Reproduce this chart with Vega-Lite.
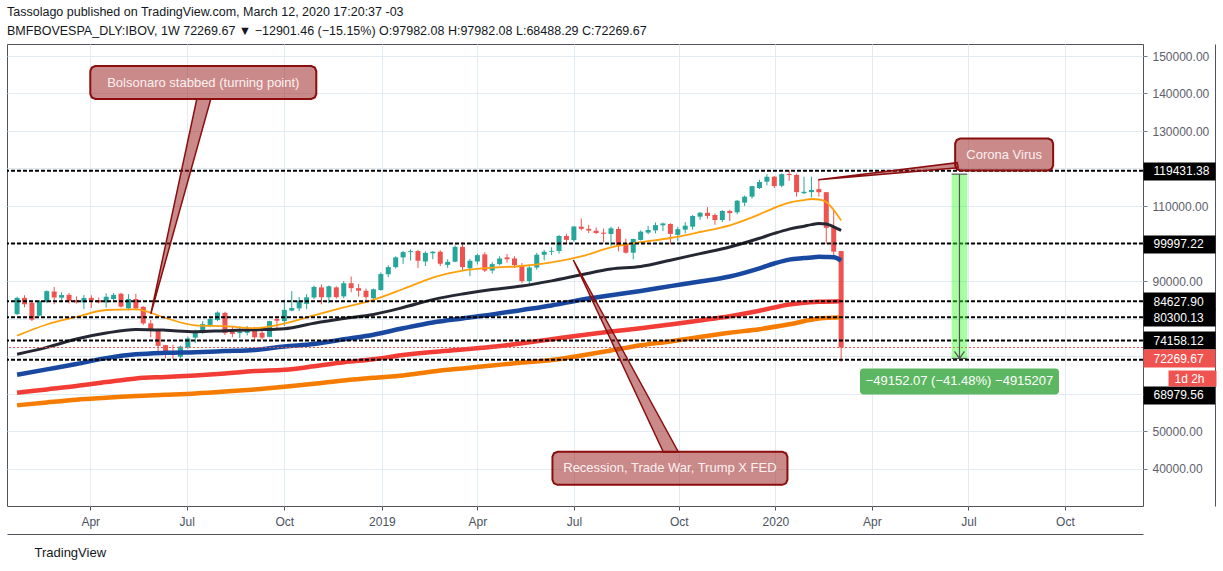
{
  "$schema": "https://vega.github.io/schema/vega-lite/v6.json",
  "width": 1136,
  "height": 462,
  "autosize": {"type": "none"},
  "padding": {"left": 7, "top": 44, "right": 80, "bottom": 65},
  "background": "#ffffff",
  "title": {
    "text": "Tassolago published on TradingView.com, March 12, 2020 17:20:37 -03",
    "subtitle": "BMFBOVESPA_DLY:IBOV, 1W  72269.67 ▼ −12901.46 (−15.15%) O:97982.08 H:97982.08 L:68488.29 C:72269.67",
    "anchor": "start",
    "frame": "group",
    "font": "Liberation Sans",
    "fontSize": 12.5,
    "fontWeight": "normal",
    "color": "#131722",
    "subtitleFont": "Liberation Sans",
    "subtitleFontSize": 12.5,
    "subtitleColor": "#131722",
    "subtitlePadding": 6,
    "offset": 7
  },
  "datasets": {
    "candles": [
      {"d": "2018-01-22", "o": 81200, "h": 85800, "l": 80900, "c": 85500},
      {"d": "2018-01-29", "o": 85500, "h": 86200, "l": 83000, "c": 83800},
      {"d": "2018-02-05", "o": 84200, "h": 84400, "l": 79300, "c": 79700},
      {"d": "2018-02-12", "o": 80750, "h": 84900, "l": 80600, "c": 84650},
      {"d": "2018-02-19", "o": 84400, "h": 87500, "l": 84100, "c": 87300},
      {"d": "2018-02-26", "o": 87200, "h": 88400, "l": 83800, "c": 85600},
      {"d": "2018-03-05", "o": 85550, "h": 87000, "l": 84300, "c": 86250},
      {"d": "2018-03-12", "o": 86300, "h": 86800, "l": 84000, "c": 84700},
      {"d": "2018-03-19", "o": 84900, "h": 85900, "l": 84000, "c": 84300},
      {"d": "2018-03-26", "o": 84300, "h": 86300, "l": 82500, "c": 85500},
      {"d": "2018-04-02", "o": 85500, "h": 86200, "l": 82800, "c": 84800},
      {"d": "2018-04-09", "o": 84900, "h": 85600, "l": 84000, "c": 84300},
      {"d": "2018-04-16", "o": 84300, "h": 86700, "l": 82900, "c": 85800},
      {"d": "2018-04-23", "o": 85200, "h": 86800, "l": 84500, "c": 86300},
      {"d": "2018-04-30", "o": 86600, "h": 86900, "l": 82900, "c": 83150},
      {"d": "2018-05-07", "o": 82700, "h": 86500, "l": 82200, "c": 85200},
      {"d": "2018-05-14", "o": 85200, "h": 86600, "l": 82300, "c": 82700},
      {"d": "2018-05-21", "o": 83100, "h": 83300, "l": 78300, "c": 78700},
      {"d": "2018-05-28", "o": 78700, "h": 79600, "l": 75000, "c": 76900},
      {"d": "2018-06-04", "o": 76900, "h": 77300, "l": 70700, "c": 72700},
      {"d": "2018-06-11", "o": 72900, "h": 73000, "l": 69400, "c": 70500},
      {"d": "2018-06-18", "o": 70900, "h": 73000, "l": 69200, "c": 70600},
      {"d": "2018-06-25", "o": 69800, "h": 72800, "l": 69400, "c": 72500},
      {"d": "2018-07-02", "o": 72300, "h": 75200, "l": 71900, "c": 74700},
      {"d": "2018-07-09", "o": 74900, "h": 77000, "l": 73500, "c": 76700},
      {"d": "2018-07-16", "o": 76500, "h": 79300, "l": 75900, "c": 78500},
      {"d": "2018-07-23", "o": 78300, "h": 80500, "l": 77700, "c": 79900},
      {"d": "2018-07-30", "o": 79600, "h": 81900, "l": 79300, "c": 81600},
      {"d": "2018-08-06", "o": 81500, "h": 81800, "l": 75600, "c": 76100},
      {"d": "2018-08-13", "o": 76500, "h": 78000, "l": 75000, "c": 75900},
      {"d": "2018-08-20", "o": 76100, "h": 77900, "l": 74800, "c": 76500},
      {"d": "2018-08-27", "o": 76200, "h": 78000, "l": 75500, "c": 76700},
      {"d": "2018-09-03", "o": 76700, "h": 77800, "l": 74000, "c": 75000},
      {"d": "2018-09-10", "o": 76200, "h": 76900, "l": 74400, "c": 74900},
      {"d": "2018-09-17", "o": 75100, "h": 79400, "l": 75000, "c": 79300},
      {"d": "2018-09-24", "o": 79900, "h": 80700, "l": 77000, "c": 79400},
      {"d": "2018-10-01", "o": 79300, "h": 85000, "l": 78000, "c": 82300},
      {"d": "2018-10-08", "o": 82100, "h": 87300, "l": 81900, "c": 82800},
      {"d": "2018-10-15", "o": 82700, "h": 85700, "l": 82000, "c": 84750},
      {"d": "2018-10-22", "o": 83900, "h": 86500, "l": 82500, "c": 85650},
      {"d": "2018-10-29", "o": 85600, "h": 88800, "l": 85200, "c": 88400},
      {"d": "2018-11-05", "o": 88300, "h": 89100, "l": 83800, "c": 85650},
      {"d": "2018-11-12", "o": 85650, "h": 88800, "l": 84100, "c": 88600},
      {"d": "2018-11-19", "o": 88300, "h": 88600, "l": 85300, "c": 85700},
      {"d": "2018-11-26", "o": 85900, "h": 90000, "l": 85400, "c": 89400},
      {"d": "2018-12-03", "o": 89400, "h": 91200, "l": 87000, "c": 88100},
      {"d": "2018-12-10", "o": 88100, "h": 89200, "l": 85800, "c": 87400},
      {"d": "2018-12-17", "o": 87400, "h": 88000, "l": 85000, "c": 85700},
      {"d": "2018-12-24", "o": 85400, "h": 88000, "l": 85000, "c": 87800},
      {"d": "2018-12-31", "o": 87600, "h": 92300, "l": 87400, "c": 91850},
      {"d": "2019-01-07", "o": 91800, "h": 94200, "l": 91000, "c": 93700},
      {"d": "2019-01-14", "o": 93700, "h": 96600, "l": 93300, "c": 96300},
      {"d": "2019-01-21", "o": 96300, "h": 98000, "l": 94500, "c": 97700},
      {"d": "2019-01-28", "o": 97700, "h": 98400, "l": 95500, "c": 97950},
      {"d": "2019-02-04", "o": 98000, "h": 98300, "l": 93500, "c": 95400},
      {"d": "2019-02-11", "o": 95200, "h": 97900, "l": 94000, "c": 97500},
      {"d": "2019-02-18", "o": 97400, "h": 98000, "l": 95800, "c": 97800},
      {"d": "2019-02-25", "o": 97800, "h": 98200, "l": 94000, "c": 94600},
      {"d": "2019-03-04", "o": 94300, "h": 95800, "l": 93500, "c": 95100},
      {"d": "2019-03-11", "o": 95150, "h": 99500, "l": 95000, "c": 99100},
      {"d": "2019-03-18", "o": 99100, "h": 100300, "l": 92700, "c": 93700},
      {"d": "2019-03-25", "o": 93400, "h": 95900, "l": 91300, "c": 95400},
      {"d": "2019-04-01", "o": 95200, "h": 97300, "l": 94400, "c": 96900},
      {"d": "2019-04-08", "o": 97100, "h": 97700, "l": 92400, "c": 92800},
      {"d": "2019-04-15", "o": 92800, "h": 95000, "l": 92000, "c": 94500},
      {"d": "2019-04-22", "o": 94500, "h": 96600, "l": 94200, "c": 96000},
      {"d": "2019-04-29", "o": 96300, "h": 97200, "l": 94900, "c": 95800},
      {"d": "2019-05-06", "o": 96000, "h": 96600, "l": 93500, "c": 94250},
      {"d": "2019-05-13", "o": 94200, "h": 94800, "l": 89400, "c": 89990},
      {"d": "2019-05-20", "o": 90000, "h": 94300, "l": 89200, "c": 93600},
      {"d": "2019-05-27", "o": 93600, "h": 97500, "l": 93000, "c": 97000},
      {"d": "2019-06-03", "o": 97000, "h": 98300, "l": 95500, "c": 97800},
      {"d": "2019-06-10", "o": 97800, "h": 99000, "l": 96900, "c": 98040},
      {"d": "2019-06-17", "o": 98000, "h": 102300, "l": 97300, "c": 102000},
      {"d": "2019-06-24", "o": 102000, "h": 102600, "l": 100000, "c": 100967},
      {"d": "2019-07-01", "o": 100900, "h": 104600, "l": 100500, "c": 104530},
      {"d": "2019-07-08", "o": 104500, "h": 106700, "l": 103500, "c": 103900},
      {"d": "2019-07-15", "o": 103900, "h": 105000, "l": 102800, "c": 103450},
      {"d": "2019-07-22", "o": 103400, "h": 104300, "l": 102500, "c": 102800},
      {"d": "2019-07-29", "o": 102900, "h": 104000, "l": 100300, "c": 102600},
      {"d": "2019-08-05", "o": 102530, "h": 104500, "l": 99400, "c": 104050},
      {"d": "2019-08-12", "o": 103870, "h": 104500, "l": 97900, "c": 99400},
      {"d": "2019-08-19", "o": 100050, "h": 101300, "l": 97300, "c": 97550},
      {"d": "2019-08-26", "o": 97550, "h": 101300, "l": 95800, "c": 101200},
      {"d": "2019-09-02", "o": 100950, "h": 103500, "l": 100800, "c": 103150},
      {"d": "2019-09-09", "o": 102900, "h": 104700, "l": 102500, "c": 103600},
      {"d": "2019-09-16", "o": 103500, "h": 105600, "l": 102700, "c": 104900},
      {"d": "2019-09-23", "o": 104850, "h": 105600, "l": 103300, "c": 105350},
      {"d": "2019-09-30", "o": 105200, "h": 105400, "l": 99800, "c": 102551},
      {"d": "2019-10-07", "o": 102300, "h": 104500, "l": 100600, "c": 103831},
      {"d": "2019-10-14", "o": 103700, "h": 105700, "l": 102700, "c": 104750},
      {"d": "2019-10-21", "o": 104500, "h": 107600, "l": 103700, "c": 107330},
      {"d": "2019-10-28", "o": 107150, "h": 108400, "l": 106300, "c": 108200},
      {"d": "2019-11-04", "o": 108200, "h": 109700, "l": 106600, "c": 107350},
      {"d": "2019-11-11", "o": 107600, "h": 108000, "l": 105000, "c": 106270},
      {"d": "2019-11-18", "o": 106270, "h": 108900, "l": 105700, "c": 108670},
      {"d": "2019-11-25", "o": 108700, "h": 109000, "l": 106000, "c": 108100},
      {"d": "2019-12-02", "o": 108320, "h": 111600, "l": 107800, "c": 111400},
      {"d": "2019-12-09", "o": 110900, "h": 112800, "l": 110000, "c": 112480},
      {"d": "2019-12-16", "o": 112500, "h": 115300, "l": 112000, "c": 115300},
      {"d": "2019-12-23", "o": 114800, "h": 117000, "l": 114500, "c": 116400},
      {"d": "2019-12-30", "o": 116500, "h": 118500, "l": 115500, "c": 117800},
      {"d": "2020-01-06", "o": 117800, "h": 118000, "l": 114800, "c": 115333},
      {"d": "2020-01-13", "o": 115400, "h": 118700, "l": 115000, "c": 118500},
      {"d": "2020-01-20", "o": 118530, "h": 119600, "l": 116700, "c": 118270},
      {"d": "2020-01-27", "o": 118300, "h": 118600, "l": 112500, "c": 113700},
      {"d": "2020-02-03", "o": 113400, "h": 117800, "l": 113200, "c": 113800},
      {"d": "2020-02-10", "o": 113700, "h": 117800, "l": 112300, "c": 114270},
      {"d": "2020-02-17", "o": 114500, "h": 116900, "l": 112500, "c": 113681},
      {"d": "2020-02-24", "o": 113681, "h": 113700, "l": 100000, "c": 104172},
      {"d": "2020-03-02", "o": 104480, "h": 108900, "l": 96700, "c": 97813},
      {"d": "2020-03-09", "o": 97982.08, "h": 97982.08, "l": 68488.29, "c": 72269.67}
    ],
    "ma": [
      {"d": "2018-01-22", "s": "ma20", "v": 75413}, {"d": "2018-02-19", "s": "ma20", "v": 78400},
      {"d": "2018-03-19", "s": "ma20", "v": 80400}, {"d": "2018-04-16", "s": "ma20", "v": 82267},
      {"d": "2018-05-14", "s": "ma20", "v": 82453}, {"d": "2018-06-11", "s": "ma20", "v": 80133},
      {"d": "2018-07-09", "s": "ma20", "v": 78187}, {"d": "2018-08-06", "s": "ma20", "v": 77947},
      {"d": "2018-09-03", "s": "ma20", "v": 77440}, {"d": "2018-10-01", "s": "ma20", "v": 78640},
      {"d": "2018-10-29", "s": "ma20", "v": 80853}, {"d": "2018-11-26", "s": "ma20", "v": 82960},
      {"d": "2018-12-24", "s": "ma20", "v": 84987}, {"d": "2019-01-21", "s": "ma20", "v": 87867},
      {"d": "2019-02-18", "s": "ma20", "v": 90907}, {"d": "2019-03-18", "s": "ma20", "v": 92773},
      {"d": "2019-04-15", "s": "ma20", "v": 93547}, {"d": "2019-05-13", "s": "ma20", "v": 94000},
      {"d": "2019-06-10", "s": "ma20", "v": 94960}, {"d": "2019-07-08", "s": "ma20", "v": 96560},
      {"d": "2019-08-05", "s": "ma20", "v": 98960}, {"d": "2019-09-02", "s": "ma20", "v": 100347},
      {"d": "2019-09-30", "s": "ma20", "v": 101467}, {"d": "2019-10-28", "s": "ma20", "v": 103067},
      {"d": "2019-11-25", "s": "ma20", "v": 104853}, {"d": "2019-12-23", "s": "ma20", "v": 107787},
      {"d": "2020-01-06", "s": "ma20", "v": 109493}, {"d": "2020-01-20", "s": "ma20", "v": 110907},
      {"d": "2020-02-03", "s": "ma20", "v": 111573}, {"d": "2020-02-10", "s": "ma20", "v": 111867},
      {"d": "2020-02-17", "s": "ma20", "v": 111733}, {"d": "2020-02-24", "s": "ma20", "v": 111093},
      {"d": "2020-03-02", "s": "ma20", "v": 108933}, {"d": "2020-03-09", "s": "ma20", "v": 106133},

      {"d": "2018-01-22", "s": "ma50", "v": 70453}, {"d": "2018-02-19", "s": "ma50", "v": 72293},
      {"d": "2018-03-19", "s": "ma50", "v": 74533}, {"d": "2018-04-16", "s": "ma50", "v": 76107},
      {"d": "2018-05-14", "s": "ma50", "v": 77093}, {"d": "2018-06-11", "s": "ma50", "v": 76880},
      {"d": "2018-07-09", "s": "ma50", "v": 76480}, {"d": "2018-08-06", "s": "ma50", "v": 76747},
      {"d": "2018-09-03", "s": "ma50", "v": 76987}, {"d": "2018-10-01", "s": "ma50", "v": 77280},
      {"d": "2018-10-29", "s": "ma50", "v": 78747}, {"d": "2018-11-26", "s": "ma50", "v": 80000},
      {"d": "2018-12-24", "s": "ma50", "v": 81093}, {"d": "2019-01-21", "s": "ma50", "v": 82933},
      {"d": "2019-02-18", "s": "ma50", "v": 85040}, {"d": "2019-03-18", "s": "ma50", "v": 86533},
      {"d": "2019-04-15", "s": "ma50", "v": 87733}, {"d": "2019-05-13", "s": "ma50", "v": 88667},
      {"d": "2019-06-10", "s": "ma50", "v": 90027}, {"d": "2019-07-08", "s": "ma50", "v": 91653},
      {"d": "2019-08-05", "s": "ma50", "v": 93200}, {"d": "2019-09-02", "s": "ma50", "v": 93867},
      {"d": "2019-09-30", "s": "ma50", "v": 95547}, {"d": "2019-10-28", "s": "ma50", "v": 97307},
      {"d": "2019-11-25", "s": "ma50", "v": 99067}, {"d": "2019-12-23", "s": "ma50", "v": 101387},
      {"d": "2020-01-06", "s": "ma50", "v": 102693}, {"d": "2020-01-20", "s": "ma50", "v": 103840},
      {"d": "2020-02-03", "s": "ma50", "v": 104613}, {"d": "2020-02-10", "s": "ma50", "v": 105040},
      {"d": "2020-02-17", "s": "ma50", "v": 105360}, {"d": "2020-02-24", "s": "ma50", "v": 105227},
      {"d": "2020-03-02", "s": "ma50", "v": 104453}, {"d": "2020-03-09", "s": "ma50", "v": 103520},

      {"d": "2018-01-22", "s": "ma100", "v": 65013}, {"d": "2018-02-19", "s": "ma100", "v": 66427},
      {"d": "2018-03-19", "s": "ma100", "v": 67867}, {"d": "2018-04-16", "s": "ma100", "v": 69440},
      {"d": "2018-05-14", "s": "ma100", "v": 70453}, {"d": "2018-06-11", "s": "ma100", "v": 70853},
      {"d": "2018-07-09", "s": "ma100", "v": 71013}, {"d": "2018-08-06", "s": "ma100", "v": 71307},
      {"d": "2018-09-03", "s": "ma100", "v": 71600}, {"d": "2018-10-01", "s": "ma100", "v": 72533},
      {"d": "2018-10-29", "s": "ma100", "v": 73200}, {"d": "2018-11-26", "s": "ma100", "v": 74453},
      {"d": "2018-12-24", "s": "ma100", "v": 75680}, {"d": "2019-01-21", "s": "ma100", "v": 77387},
      {"d": "2019-02-18", "s": "ma100", "v": 78933}, {"d": "2019-03-18", "s": "ma100", "v": 80027},
      {"d": "2019-04-15", "s": "ma100", "v": 81067}, {"d": "2019-05-13", "s": "ma100", "v": 82267},
      {"d": "2019-06-10", "s": "ma100", "v": 83467}, {"d": "2019-07-08", "s": "ma100", "v": 84987},
      {"d": "2019-08-05", "s": "ma100", "v": 86187}, {"d": "2019-09-02", "s": "ma100", "v": 87350},
      {"d": "2019-09-30", "s": "ma100", "v": 88640}, {"d": "2019-10-28", "s": "ma100", "v": 89867},
      {"d": "2019-11-25", "s": "ma100", "v": 91200}, {"d": "2019-12-23", "s": "ma100", "v": 93387},
      {"d": "2020-01-06", "s": "ma100", "v": 94667}, {"d": "2020-01-20", "s": "ma100", "v": 95707},
      {"d": "2020-02-03", "s": "ma100", "v": 96107}, {"d": "2020-02-10", "s": "ma100", "v": 96293},
      {"d": "2020-02-17", "s": "ma100", "v": 96453}, {"d": "2020-02-24", "s": "ma100", "v": 96400},
      {"d": "2020-03-02", "s": "ma100", "v": 96320}, {"d": "2020-03-09", "s": "ma100", "v": 95467},

      {"d": "2018-01-22", "s": "ma150", "v": 60213}, {"d": "2018-02-19", "s": "ma150", "v": 61093},
      {"d": "2018-03-19", "s": "ma150", "v": 61973}, {"d": "2018-04-16", "s": "ma150", "v": 63040},
      {"d": "2018-05-14", "s": "ma150", "v": 64027}, {"d": "2018-06-11", "s": "ma150", "v": 64427},
      {"d": "2018-07-09", "s": "ma150", "v": 64827}, {"d": "2018-08-06", "s": "ma150", "v": 65360},
      {"d": "2018-09-03", "s": "ma150", "v": 65973}, {"d": "2018-10-01", "s": "ma150", "v": 66320},
      {"d": "2018-10-29", "s": "ma150", "v": 67253}, {"d": "2018-11-26", "s": "ma150", "v": 68320},
      {"d": "2018-12-24", "s": "ma150", "v": 69120}, {"d": "2019-01-21", "s": "ma150", "v": 70267},
      {"d": "2019-02-18", "s": "ma150", "v": 71093}, {"d": "2019-03-18", "s": "ma150", "v": 71707},
      {"d": "2019-04-15", "s": "ma150", "v": 72453}, {"d": "2019-05-13", "s": "ma150", "v": 73413},
      {"d": "2019-06-10", "s": "ma150", "v": 74480}, {"d": "2019-07-08", "s": "ma150", "v": 75547},
      {"d": "2019-08-05", "s": "ma150", "v": 76533}, {"d": "2019-09-02", "s": "ma150", "v": 77413},
      {"d": "2019-09-30", "s": "ma150", "v": 78427}, {"d": "2019-10-28", "s": "ma150", "v": 79493},
      {"d": "2019-11-25", "s": "ma150", "v": 80613}, {"d": "2019-12-23", "s": "ma150", "v": 82080},
      {"d": "2020-01-20", "s": "ma150", "v": 83733}, {"d": "2020-02-17", "s": "ma150", "v": 84450},
      {"d": "2020-03-09", "s": "ma150", "v": 84628},

      {"d": "2018-01-22", "s": "ma200", "v": 56853}, {"d": "2018-02-19", "s": "ma200", "v": 57627},
      {"d": "2018-03-19", "s": "ma200", "v": 58347}, {"d": "2018-04-16", "s": "ma200", "v": 58853},
      {"d": "2018-05-14", "s": "ma200", "v": 59333}, {"d": "2018-06-11", "s": "ma200", "v": 59653},
      {"d": "2018-07-09", "s": "ma200", "v": 60000}, {"d": "2018-08-06", "s": "ma200", "v": 60507},
      {"d": "2018-09-03", "s": "ma200", "v": 61093}, {"d": "2018-10-01", "s": "ma200", "v": 61787},
      {"d": "2018-10-29", "s": "ma200", "v": 62587}, {"d": "2018-11-26", "s": "ma200", "v": 63467},
      {"d": "2018-12-24", "s": "ma200", "v": 64187}, {"d": "2019-01-21", "s": "ma200", "v": 64800},
      {"d": "2019-02-18", "s": "ma200", "v": 65867}, {"d": "2019-03-18", "s": "ma200", "v": 66693},
      {"d": "2019-04-15", "s": "ma200", "v": 67467}, {"d": "2019-05-13", "s": "ma200", "v": 68240},
      {"d": "2019-06-10", "s": "ma200", "v": 68933}, {"d": "2019-07-08", "s": "ma200", "v": 70133},
      {"d": "2019-08-05", "s": "ma200", "v": 71467}, {"d": "2019-09-02", "s": "ma200", "v": 72880},
      {"d": "2019-09-30", "s": "ma200", "v": 73867}, {"d": "2019-10-28", "s": "ma200", "v": 75067},
      {"d": "2019-11-25", "s": "ma200", "v": 76213}, {"d": "2019-12-23", "s": "ma200", "v": 77147},
      {"d": "2020-01-20", "s": "ma200", "v": 78453}, {"d": "2020-02-17", "s": "ma200", "v": 79973},
      {"d": "2020-03-09", "s": "ma200", "v": 80300}
    ],
    "levels": [
      {"lv": 119431.38}, {"lv": 99997.22}, {"lv": 84627.90},
      {"lv": 80300.13}, {"lv": 74158.12}, {"lv": 68979.56}
    ],
    "last": [{"p": 72269.67}],
    "notes": [
      {"note": "Bolsonaro stabbed (turning point)", "d": "2018-07-16T14:00:00Z", "p": 142933, "td": "2018-05-28T02:00:00Z", "tp": 81200},
      {"note": "Recession, Trade War, Trump X FED", "d": "2019-09-29T14:00:00Z", "p": 40053, "td": "2019-06-30T12:00:00Z", "tp": 95600},
      {"note": "Corona Virus", "d": "2020-08-09T17:00:00Z", "p": 123733, "td": "2020-02-16T10:00:00Z", "tp": 117013}
    ],
    "measure": [
      {"start": "2020-06-21T05:00:00Z", "end": "2020-07-05T22:00:00Z", "mid": "2020-06-28T14:00:00Z", "from": 118496.16, "to": 69344.09, "label": "−49152.07 (−41.48%) −4915207"}
    ]
  },
  "resolve": {
    "scale": {"shape": "independent"},
    "axis": {"x": "independent", "y": "independent"}
  },
  "layer": [
    {
      "data": {"name": "candles"},
      "mark": {"type": "rule", "strokeWidth": 1},
      "encoding": {
        "x": {
          "field": "d", "type": "temporal",
          "scale": {
            "type": "utc", "nice": false,
            "domain": [
              {"year": 2018, "month": 1, "date": 17, "hours": 5, "utc": true},
              {"year": 2020, "month": 12, "date": 13, "hours": 22, "utc": true}
            ]
          },
          "axis": {
            "orient": "bottom",
            "values": [
              {"year": 2018, "month": 4, "date": 1, "utc": true},
              {"year": 2018, "month": 7, "date": 1, "utc": true},
              {"year": 2018, "month": 10, "date": 1, "utc": true},
              {"year": 2019, "month": 1, "date": 1, "utc": true},
              {"year": 2019, "month": 4, "date": 1, "utc": true},
              {"year": 2019, "month": 7, "date": 1, "utc": true},
              {"year": 2019, "month": 10, "date": 8, "utc": true},
              {"year": 2020, "month": 1, "date": 7, "utc": true},
              {"year": 2020, "month": 4, "date": 7, "utc": true},
              {"year": 2020, "month": 7, "date": 7, "utc": true},
              {"year": 2020, "month": 10, "date": 6, "utc": true}
            ],
            "labelExpr": "utcmonth(datum.value) == 0 ? utcFormat(datum.value, '%Y') : utcFormat(datum.value, '%b')",
            "grid": true, "gridColor": "#e1ecf2", "domain": false,
            "tickSize": 4, "tickColor": "#50535e",
            "labelColor": "#4c525e", "labelFontSize": 12, "labelPadding": 6, "labelOverlap": false,
            "title": "TradingView", "titleAnchor": "start", "titleAlign": "left",
            "titleX": 27, "titleY": 46, "titleBaseline": "middle",
            "titleFontSize": 13, "titleFontWeight": "normal", "titleColor": "#131722"
          }
        },
        "y": {
          "field": "l", "type": "quantitative",
          "scale": {"domain": [30000, 153200], "nice": false, "zero": false},
          "axis": {
            "orient": "right",
            "values": [40000, 50000, 90000, 110000, 130000, 140000, 150000],
            "format": ".2f", "grid": false, "domain": false,
            "tickSize": 4, "tickColor": "#787b86",
            "labelColor": "#5d606b", "labelFontSize": 12, "labelPadding": 5, "labelOverlap": false,
            "title": null
          }
        },
        "y2": {"field": "h"},
        "color": {"condition": {"test": "datum.o < datum.c", "value": "#26a69a"}, "value": "#ef5350"}
      }
    },
    {
      "data": {"name": "candles"},
      "mark": {"type": "bar", "width": 5},
      "encoding": {
        "x": {
          "field": "d", "type": "temporal",
          "axis": {"orient": "bottom", "offset": 28, "domain": true, "domainColor": "#50535e", "labels": false, "ticks": false, "grid": false, "title": null}
        },
        "y": {
          "field": "o", "type": "quantitative",
          "axis": {
            "orient": "right", "values": [68979.56], "format": ".2f",
            "tickOffset": 35, "tickSize": 72, "tickWidth": 18, "tickColor": "#000000",
            "labelColor": "#ffffff", "labelPadding": -62, "labelFontSize": 12,
            "domain": false, "grid": false, "title": null, "labelOverlap": false
          }
        },
        "y2": {"field": "c"},
        "color": {"condition": {"test": "datum.o < datum.c", "value": "#26a69a"}, "value": "#ef5350"}
      }
    },
    {
      "data": {"name": "ma"},
      "transform": [{"filter": {"field": "s", "oneOf": ["ma200", "ma150", "ma100"]}}],
      "mark": {"type": "line", "interpolate": "monotone", "strokeWidth": 4.5},
      "encoding": {
        "x": {"field": "d", "type": "temporal", "axis": null},
        "y": {
          "field": "v", "type": "quantitative",
          "axis": {"orient": "right", "offset": 72, "domain": true, "domainColor": "#50535e", "labels": false, "ticks": false, "grid": false, "title": null}
        },
        "color": {
          "field": "s", "type": "nominal", "legend": null,
          "scale": {"domain": ["ma200", "ma150", "ma100", "ma50", "ma20"], "range": ["#f57c00", "#f23c36", "#1848a0", "#252833", "#ff9f0a"]}
        }
      }
    },
    {
      "data": {"name": "ma"},
      "transform": [{"filter": {"field": "s", "equal": "ma50"}}],
      "mark": {"type": "line", "interpolate": "monotone", "strokeWidth": 3},
      "encoding": {
        "x": {"field": "d", "type": "temporal", "axis": null},
        "y": {
          "field": "v", "type": "quantitative",
          "axis": {
            "orient": "right",
            "values": [40000, 50000, 60000, 70000, 80000, 90000, 100000, 110000, 120000, 130000, 140000, 150000],
            "grid": true, "gridColor": "#e1ecf2", "labels": false, "ticks": false, "domain": false, "title": null
          }
        },
        "color": {
          "field": "s", "type": "nominal", "legend": null,
          "scale": {"domain": ["ma200", "ma150", "ma100", "ma50", "ma20"], "range": ["#f57c00", "#f23c36", "#1848a0", "#252833", "#ff9f0a"]}
        }
      }
    },
    {
      "data": {"name": "ma"},
      "transform": [{"filter": {"field": "s", "equal": "ma20"}}],
      "mark": {"type": "line", "interpolate": "monotone", "strokeWidth": 1.8},
      "encoding": {
        "x": {"field": "d", "type": "temporal", "axis": null},
        "y": {"field": "v", "type": "quantitative", "axis": null},
        "color": {
          "field": "s", "type": "nominal", "legend": null,
          "scale": {"domain": ["ma200", "ma150", "ma100", "ma50", "ma20"], "range": ["#f57c00", "#f23c36", "#1848a0", "#252833", "#ff9f0a"]}
        }
      }
    },
    {
      "data": {"name": "levels"},
      "mark": {"type": "rule", "strokeDash": [4, 2], "strokeWidth": 2, "color": "#000000"},
      "encoding": {
        "y": {
          "field": "lv", "type": "quantitative",
          "axis": {
            "orient": "right", "values": [119431.38, 99997.22, 84627.90, 80300.13, 74158.12], "format": ".2f",
            "tickSize": 72, "tickWidth": 18, "tickColor": "#000000",
            "labelColor": "#ffffff", "labelPadding": -62, "labelFontSize": 12,
            "domain": false, "grid": false, "title": null, "labelOverlap": false
          }
        }
      }
    },
    {
      "data": {"name": "last"},
      "mark": {"type": "rule", "strokeDash": [2, 2], "strokeWidth": 1, "color": "#ef5350"},
      "encoding": {
        "y": {
          "field": "p", "type": "quantitative",
          "axis": {
            "orient": "right", "values": [72269.67], "format": ".2f",
            "tickOffset": 11, "tickSize": 72, "tickWidth": 18, "tickColor": "#ef5350",
            "labelColor": "#ffffff", "labelPadding": -62, "labelFontSize": 12,
            "domain": false, "grid": false, "title": null, "labelOverlap": false
          }
        }
      }
    },
    {
      "data": {"name": "measure"},
      "mark": {"type": "rect", "color": "#3dff33", "opacity": 0.45},
      "encoding": {
        "x": {"field": "start", "type": "temporal", "axis": null},
        "x2": {"field": "end"},
        "y": {
          "field": "from", "type": "quantitative",
          "axis": {
            "orient": "right", "values": [72269.67], "labelExpr": "'1d 2h'", "offset": 25,
            "tickOffset": 31, "tickSize": 48, "tickWidth": 16, "tickColor": "#ef5350",
            "labelColor": "#ffffff", "labelPadding": -42, "labelFontSize": 12,
            "domain": false, "grid": false, "title": null, "labelOverlap": false
          }
        },
        "y2": {"field": "to"}
      }
    },
    {
      "data": {"name": "measure"},
      "mark": {"type": "rule", "color": "#555555", "strokeWidth": 1.2},
      "encoding": {
        "x": {"field": "mid", "type": "temporal", "axis": null},
        "y": {"field": "from", "type": "quantitative", "axis": null},
        "y2": {"field": "to"}
      }
    },
    {
      "data": {"name": "measure"},
      "mark": {"type": "rule", "color": "#555555", "strokeWidth": 1.2},
      "encoding": {
        "x": {"field": "start", "type": "temporal", "axis": null},
        "x2": {"field": "end"},
        "y": {"field": "from", "type": "quantitative", "axis": null}
      }
    },
    {
      "data": {"name": "measure"},
      "mark": {"type": "rule", "color": "#555555", "strokeWidth": 1.2},
      "encoding": {
        "x": {"field": "start", "type": "temporal", "axis": null},
        "x2": {"field": "end"},
        "y": {"field": "to", "type": "quantitative", "axis": null}
      }
    },
    {
      "data": {"name": "measure"},
      "mark": {"type": "point", "shape": "M-5,-7L0,0L5,-7", "size": 4, "filled": false, "stroke": "#555555", "strokeWidth": 1.2, "opacity": 1},
      "encoding": {
        "x": {"field": "mid", "type": "temporal", "axis": null},
        "y": {"field": "to", "type": "quantitative", "axis": null}
      }
    },
    {
      "data": {"name": "measure"},
      "mark": {
        "type": "point", "size": 4, "filled": true, "fill": "#5db762", "strokeWidth": 0, "opacity": 1, "yOffset": 23,
        "shape": "M-96.5,-13L96.5,-13L98.6,-12.1L99.5,-10L99.5,10L98.6,12.1L96.5,13L-96.5,13L-98.6,12.1L-99.5,10L-99.5,-10L-98.6,-12.1Z"
      },
      "encoding": {
        "x": {"field": "mid", "type": "temporal", "axis": null},
        "y": {"field": "to", "type": "quantitative", "axis": null}
      }
    },
    {
      "data": {"name": "measure"},
      "mark": {"type": "text", "color": "#ffffff", "fontSize": 13, "font": "Liberation Sans", "yOffset": 23},
      "encoding": {
        "x": {"field": "mid", "type": "temporal", "axis": null},
        "y": {"field": "to", "type": "quantitative", "axis": null},
        "text": {"field": "label"}
      }
    },
    {
      "data": {"name": "notes"},
      "mark": {"type": "point", "size": 4, "filled": true, "fill": "#951515", "fillOpacity": 0.5, "stroke": "#8b0e0e", "strokeWidth": 1.5, "strokeOpacity": 1, "opacity": 1},
      "encoding": {
        "x": {"field": "td", "type": "temporal", "axis": null},
        "y": {"field": "tp", "type": "quantitative", "axis": null},
        "shape": {
          "field": "note", "type": "nominal", "legend": null,
          "scale": {
            "domain": ["Bolsonaro stabbed (turning point)", "Recession, Trade War, Trump X FED", "Corona Virus"],
            "range": ["M0,0L46,-215L60,-215Z", "M0,0L90,192L105,192Z", "M0,0L139,-17L140,-12Z"]
          }
        }
      }
    },
    {
      "data": {"name": "notes"},
      "mark": {"type": "point", "size": 4, "filled": true, "fill": "#951515", "fillOpacity": 0.5, "stroke": "#8b0e0e", "strokeWidth": 2, "strokeOpacity": 1, "opacity": 1},
      "encoding": {
        "x": {"field": "d", "type": "temporal", "axis": null},
        "y": {"field": "p", "type": "quantitative", "axis": null},
        "shape": {
          "field": "note", "type": "nominal", "legend": null,
          "scale": {
            "domain": ["Bolsonaro stabbed (turning point)", "Recession, Trade War, Trump X FED", "Corona Virus"],
            "range": [
              "M-108,-16.5L108,-16.5L111.5,-15L113,-11.5L113,11.5L111.5,15L108,16.5L-108,16.5L-111.5,15L-113,11.5L-113,-11.5L-111.5,-15Z",
              "M-112.5,-16.5L112.5,-16.5L116,-15L117.5,-11.5L117.5,11.5L116,15L112.5,16.5L-112.5,16.5L-116,15L-117.5,11.5L-117.5,-11.5L-116,-15Z",
              "M-44,-16L44,-16L47.5,-14.5L49,-11L49,11L47.5,14.5L44,16L-44,16L-47.5,14.5L-49,11L-49,-11L-47.5,-14.5Z"
            ]
          }
        }
      }
    },
    {
      "data": {"name": "notes"},
      "mark": {"type": "text", "color": "#fdf0f0", "fontSize": 13, "font": "Liberation Sans"},
      "encoding": {
        "x": {"field": "d", "type": "temporal", "axis": null},
        "y": {"field": "p", "type": "quantitative", "axis": null},
        "text": {"field": "note"}
      }
    }
  ],
  "config": {
    "view": {"stroke": "#50535e", "strokeWidth": 1},
    "font": "Liberation Sans",
    "axis": {"labelFont": "Liberation Sans", "titleFont": "Liberation Sans"}
  }
}
